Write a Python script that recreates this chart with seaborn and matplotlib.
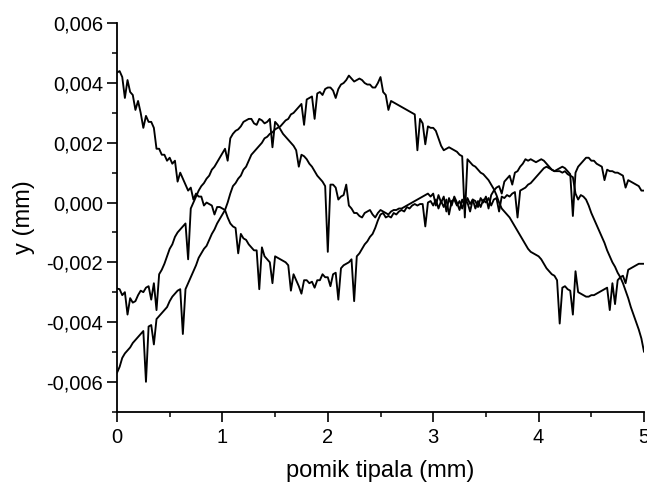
import numpy as np
import pandas as pd
import seaborn as sns
import matplotlib.pyplot as plt
from matplotlib.ticker import FuncFormatter, MultipleLocator

# measured profiles, y in units of 0.0001 mm, sampled every 0.025 mm of probe travel
profile_a = [
    43.5, 44, 42, 35, 41, 37, 36, 31,
    34, 30, 25, 29, 27, 27, 25, 18,
    18, 16, 16, 14, 15, 13, 14, 7,
    10, 8, 6, 4, 5, 1, 3, 2,
    2, -1, 0, -0.5, -1, -4, -1.5, -1.5,
    -2, -2.5, -5, -7, -8, -8.5, -17, -10.5,
    -12, -12.5, -14, -15, -16, -16, -29, -15,
    -18, -19, -20, -27, -18, -18.5, -19, -19.5,
    -20, -21, -29.5, -24, -26, -28, -30.5, -26,
    -26, -27, -26.5, -28.5, -26, -26, -24, -25,
    -25, -28, -24, -23.5, -32.5, -22, -21, -20.5,
    -20, -19, -33, -18, -17, -15.5, -14, -13,
    -11.5, -10.5, -8.5, -6, -4, -3.5, -5, -4.5,
    -5, -3.5, -4, -3, -2.5, -3, -1.5, -2,
    -1, -0.5, -1, -0.5, -0.5, -8, 0, 0.5,
    -1, 1, -2, 0.5, -1.5, 1, -4, 0.5,
    1, -1, 0.5, -2, 1, 0, -3, 1,
    0.5, -1.5, 1.5, 0, 2, -2, 2.5, 4,
    5, 5.5, 3, 7, 8, 9, 6, 10,
    10.5, 12, 13, 14.5, 14, 14.5, 14, 13.5,
    14, 14.5, 14, 13, 12, 11, 10.5, 11,
    11.5, 12, 11.5, 10.5, 9.5, -4.5, 10, 12,
    13, 14, 15, 15, 14, 14, 13, 12.5,
    12, 7.5, 11, 10.5, 10.5, 10, 10, 9.5,
    9, 5, 7.5, 7, 6.5, 6, 5.5, 4,
    4,
]

profile_b = [
    -28.8, -29, -31, -30, -37.5, -32, -33.5, -33,
    -31, -29.5, -30, -28.5, -28, -32.5, -27, -36,
    -24, -22.5, -20.5, -18, -15.5, -14, -11.5, -10,
    -9, -8, -7, -19, -2, 0, 2, 4,
    5.5, 6.5, 8, 9, 11, 12, 13.5, 15,
    16.5, 18, 14, 21.5, 23, 24, 24.5, 25.5,
    27, 27.5, 28, 28, 26.5, 26, 28, 27.5,
    26.5, 27, 28, 18.5, 27, 26, 24.5, 23,
    22, 21, 20, 19, 17.5, 12, 16, 15.5,
    14.5, 13, 12, 10.5, 9, 8, 7, 5.5,
    -16.5, 6, 6, 5, 1, 2, 2.5, 6,
    -1, -2, -3.5, -3.5, -4.5, -5, -3.5, -3,
    -2.5, -4, -5, -3.5, -2.5, -3, -3.5, -4,
    -3, -2.5, -2.5, -2, -2, -1.5, -1, -0.5,
    0, 0.5, 1, 1.5, 2, 2.5, 3, 2,
    3, -1, 2.5, 0, 2, -3, 1.5, -1,
    2, 0, -2.5, 1, -1, 1.5, -0.5, 1,
    -2, 0.5, -1.5, 1, 0, 1.5, -1, 1,
    1.5, -3, 2, 1.5, 2.5, 2, 3, 3.5,
    -5, 4, 4.5, 5, 6, 6.5, 7.5, 8.5,
    9.5, 10.5, 11.5, 12, 11.5, 11, 10.5, 10.5,
    10.5, 10, 10.5, 9.5, 9, 8.5, 3, 1,
    2.5, 2, 1, -1, -3.5, -5.5, -7.5, -9.5,
    -11.5, -13.5, -16, -18, -20, -21.5, -23.5, -25,
    -27, -29.5, -32, -35, -37.5, -40, -42.5, -45.5,
    -50,
]

profile_c = [
    -57, -55, -52, -50.5, -49.5, -48.5, -47, -46,
    -45, -44, -43, -60, -41.5, -41, -47.5, -39,
    -38, -37, -36, -35, -33, -31.5, -30.5, -29.5,
    -29, -44, -29, -27, -25, -23, -21, -18.5,
    -17, -15.5, -14.5, -12.5, -10.5, -9, -7, -5.5,
    -4, -2.5, 0, 3, 5.5, 6.5, 8, 9,
    11, 12, 14, 16, 17, 18, 19, 20,
    21.5, 22, 23, 23.5, 24.5, 25, 25.5, 26.5,
    27.5, 28, 29.5, 30, 31, 32, 33, 26,
    34.5, 35, 35.5, 28, 36.5, 37, 36, 38,
    38.5, 38.5, 37.5, 35, 38, 39.5, 40, 41,
    42.5, 41.5, 40.5, 41, 41.5, 41, 40, 39.5,
    39.5, 38.5, 38.5, 40, 42, 37, 36, 31,
    34, 33.5, 33, 32.5, 32, 31.5, 31, 30.5,
    30, 29.5, 17.5, 28, 26.5, 19.5, 25.5, 25,
    25, 24, 21.5, 19, 17.5, 18, 18.5, 18,
    17.5, 17, 16, 15.5, -5, 14.5, 13.5, 12.5,
    12, 11, 10, 9.5, 8.5, 7.5, 6, 4.5,
    2.5, 0, -2, -3, -4, -5, -6.5, -8,
    -9.5, -11, -12.5, -14, -15.5, -16.5, -17, -17.5,
    -18, -19, -20.5, -22, -23, -24, -24.5, -26,
    -40.5, -28.5, -28, -29, -29.5, -37.5, -23, -30,
    -30.5, -31, -31.5, -31.5, -31, -31, -30.5, -30,
    -29.5, -29, -28.5, -36, -27, -34, -26, -25,
    -24.5, -27, -22.5, -22, -21.5, -21, -20.5, -20.5,
    -20.5,
]

y_ticks = [-0.006, -0.004, -0.002, 0.0, 0.002, 0.004, 0.006]


def build_frame():
    frames = []
    for name, vals in [('a', profile_a), ('b', profile_b), ('c', profile_c)]:
        pos = np.linspace(0, 5, len(vals))
        frames.append(pd.DataFrame({'x': pos, 'y': np.array(vals) * 1e-4, 'profil': name}))
    return pd.concat(frames, ignore_index=True)


def comma(v, pos):
    return f"{v:.3f}".replace('.', ',')


sns.set_style("ticks")
plt.rcParams['font.family'] = ['Liberation Sans', 'DejaVu Sans']

data = build_frame()

fig = plt.figure(figsize=(6.47, 4.82), dpi=100)
ax = fig.add_axes([0.1808, 0.1459, 0.8146, 0.8058])

sns.lineplot(data=data, x='x', y='y', hue='profil', palette=['black'] * 3,
             estimator=None, sort=False, legend=False, linewidth=1.35, ax=ax)

ax.set_xlim(0, 5)
ax.set_ylim(-0.007, 0.006)
ax.set_yticks(y_ticks)
ax.yaxis.set_major_formatter(FuncFormatter(comma))
ax.xaxis.set_major_locator(MultipleLocator(1))
ax.xaxis.set_minor_locator(MultipleLocator(0.5))
ax.yaxis.set_minor_locator(MultipleLocator(0.001))

for side in ['top', 'right']:
    ax.spines[side].set_visible(False)
for side in ['left', 'bottom']:
    ax.spines[side].set_color('black')
    ax.spines[side].set_linewidth(1.3)

ax.tick_params(which='major', length=7, width=1.2, color='black', labelsize=14.5, labelcolor='black')
ax.tick_params(which='minor', length=3.5, width=1.1, color='black')
ax.tick_params(axis='x', which='major', pad=5)
ax.tick_params(axis='y', which='major', pad=3)

ax.set_xlabel('pomik tipala (mm)', fontsize=17, color='black', labelpad=9)
ax.set_ylabel('y (mm)', fontsize=17, color='black', labelpad=8)

fig.savefig('out.png', dpi=100)
